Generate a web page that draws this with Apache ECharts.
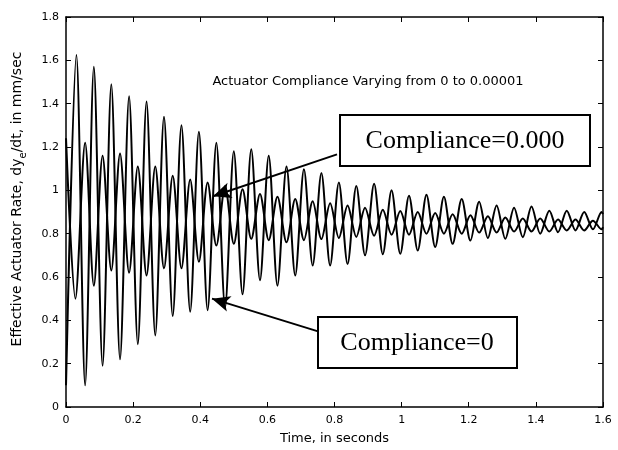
<!DOCTYPE html>
<html>
<head>
<meta charset="utf-8">
<script src="https://cdn.jsdelivr.net/npm/echarts@6/dist/echarts.min.js"></script>
<style>
  html, body { margin: 0; padding: 0; background: #fff; }
  #chart { width: 618px; height: 450px; }
</style>
</head>
<body>
<div id="chart"></div>
<script>
// axis ticks
const xTicks = [0, 0.2, 0.4, 0.6, 0.8, 1, 1.2, 1.4, 1.6];
const yTicks = [0, 0.2, 0.4, 0.6, 0.8, 1, 1.2, 1.4, 1.6, 1.8];

// Compliance=0 : larger swing, read peak by peak
const bigT = [0, 0.031, 0.057, 0.083, 0.109, 0.135, 0.161, 0.188, 0.214, 0.240, 0.266,
  0.292, 0.318, 0.344, 0.370, 0.396, 0.422, 0.448, 0.474, 0.500, 0.526, 0.552, 0.578,
  0.604, 0.630, 0.657, 0.683, 0.709, 0.735, 0.761, 0.787, 0.813, 0.839, 0.865, 0.891,
  0.918, 0.944, 0.970, 0.996, 1.022, 1.048, 1.074, 1.100, 1.126, 1.152, 1.179, 1.205,
  1.231, 1.257, 1.283, 1.309, 1.335, 1.361, 1.387, 1.413, 1.440, 1.466, 1.492, 1.518,
  1.544, 1.570, 1.596, 1.6];
const bigV = [0.1, 1.625, 0.10, 1.57, 0.19, 1.49, 0.22, 1.434, 0.29, 1.41, 0.33,
  1.34, 0.42, 1.30, 0.44, 1.27, 0.447, 1.22, 0.46, 1.18, 0.52, 1.19, 0.585,
  1.16, 0.56, 1.11, 0.607, 1.097, 0.653, 1.08, 0.653, 1.036, 0.66, 1.02, 0.70,
  1.03, 0.705, 1.0, 0.707, 0.975, 0.722, 0.98, 0.738, 0.97, 0.753, 0.96, 0.768,
  0.947, 0.78, 0.93, 0.776, 0.92, 0.784, 0.925, 0.80, 0.906, 0.807, 0.906, 0.815,
  0.90, 0.82, 0.90, 0.89];

// Compliance=0.000.. : smaller swing, opposite phase
const smallT = [0, 0.028, 0.057, 0.083, 0.109, 0.135, 0.161, 0.188, 0.214, 0.240, 0.266,
  0.292, 0.318, 0.344, 0.370, 0.396, 0.422, 0.448, 0.474, 0.500, 0.526, 0.552, 0.578,
  0.604, 0.630, 0.657, 0.683, 0.709, 0.735, 0.761, 0.787, 0.813, 0.839, 0.865, 0.891,
  0.918, 0.944, 0.970, 0.996, 1.022, 1.048, 1.074, 1.100, 1.126, 1.152, 1.179, 1.205,
  1.231, 1.257, 1.283, 1.309, 1.335, 1.361, 1.387, 1.413, 1.440, 1.466, 1.492, 1.518,
  1.544, 1.570, 1.596, 1.6];
const smallV = [1.24, 0.50, 1.22, 0.56, 1.16, 0.63, 1.17, 0.62, 1.11, 0.607, 1.11,
  0.64, 1.067, 0.64, 1.05, 0.67, 1.036, 0.745, 1.02, 0.753, 1.005, 0.776, 0.983,
  0.77, 0.97, 0.76, 0.96, 0.77, 0.95, 0.775, 0.94, 0.78, 0.93, 0.785, 0.92,
  0.79, 0.91, 0.795, 0.905, 0.795, 0.90, 0.80, 0.895, 0.80, 0.89, 0.80, 0.885,
  0.805, 0.88, 0.805, 0.875, 0.81, 0.87, 0.81, 0.87, 0.81, 0.865, 0.815, 0.865,
  0.815, 0.86, 0.82, 0.83];

const titleText = 'Actuator Compliance Varying from 0 to 0.00001';
const labelTop = 'Compliance=0.000';
const labelBottom = 'Compliance=0';

const chart = echarts.init(document.getElementById('chart'));

const sans = 'DejaVu Sans, Arial, sans-serif';
const serif = 'Liberation Serif, Times New Roman, serif';
const axisFont = { color: '#000', fontFamily: sans, fontSize: 11 };
const pairs = (t, v) => t.map((x, i) => [x, v[i]]);

const xBase = {
  type: 'value', min: xTicks[0], max: xTicks[xTicks.length - 1], interval: 0.2,
  axisLine: { show: true, onZero: false, lineStyle: { color: '#000', width: 1.5 } },
  axisTick: { show: true, inside: true, length: 5, lineStyle: { color: '#000' } },
  splitLine: { show: false },
};
const yBase = {
  type: 'value', min: yTicks[0], max: yTicks[yTicks.length - 1], interval: 0.2,
  axisLine: { show: true, onZero: false, lineStyle: { color: '#000', width: 1.5 } },
  axisTick: { show: true, inside: true, length: 5, lineStyle: { color: '#000' } },
  splitLine: { show: false },
};

const option = {
  backgroundColor: '#fff',
  animation: false,
  grid: { left: 66, right: 15, top: 17, bottom: 41 },
  xAxis: [
    {
      ...xBase, position: 'bottom',
      axisLabel: { ...axisFont, margin: 8 },
      name: 'Time, in seconds', nameLocation: 'middle', nameGap: 25,
      nameTextStyle: { ...axisFont, fontSize: 13 },
    },
    { ...xBase, position: 'top', axisLabel: { show: false } },
  ],
  yAxis: [
    {
      ...yBase, position: 'left',
      axisLabel: { ...axisFont, margin: 7 },
      name: 'Effective Actuator Rate, dy{sub|e}/dt, in mm/sec',
      nameLocation: 'middle', nameGap: 38,
      nameTextStyle: {
        ...axisFont, fontSize: 14, padding: [0, 0, 0, 26],
        rich: { sub: { ...axisFont, fontSize: 10, padding: [11, 0, 0, 0] } },
      },
    },
    { ...yBase, position: 'right', axisLabel: { show: false } },
  ],
  series: [
    {
      name: labelBottom, type: 'line', data: pairs(bigT, bigV),
      showSymbol: false, smooth: 0.3, lineStyle: { color: '#000', width: 2 },
      markLine: {
        silent: true, symbol: ['none', 'arrow'], symbolSize: [12, 18],
        label: { show: false },
        lineStyle: { color: '#000', width: 2, type: 'solid' },
        data: [
          [{ coord: [0.751, 0.349] }, { coord: [0.435, 0.50] }],
          [{ coord: [0.8075, 1.166] }, { coord: [0.438, 0.973] }],
        ],
      },
    },
    {
      name: labelTop, type: 'line', data: pairs(smallT, smallV),
      showSymbol: false, smooth: 0.3, lineStyle: { color: '#000', width: 2 },
    },
  ],
  graphic: [
    {
      type: 'text', x: 368, y: 82,
      style: { text: titleText, fontFamily: sans, fill: '#000', fontSize: 13, align: 'center', verticalAlign: 'middle' },
    },
    {
      type: 'group', x: 340, y: 115,
      children: [
        { type: 'rect', shape: { x: 0, y: 0, width: 250, height: 51 },
          style: { fill: '#fff', stroke: '#000', lineWidth: 2 } },
        { type: 'text', x: 125, y: 26,
          style: { text: labelTop, fill: '#000', fontFamily: serif,
                   fontSize: 26, align: 'center', verticalAlign: 'middle' } },
      ],
    },
    {
      type: 'group', x: 318, y: 317,
      children: [
        { type: 'rect', shape: { x: 0, y: 0, width: 199, height: 51 },
          style: { fill: '#fff', stroke: '#000', lineWidth: 2 } },
        { type: 'text', x: 99, y: 26,
          style: { text: labelBottom, fill: '#000', fontFamily: serif,
                   fontSize: 26, align: 'center', verticalAlign: 'middle' } },
      ],
    },
  ],
};

chart.setOption(option);
</script>
</body>
</html>
